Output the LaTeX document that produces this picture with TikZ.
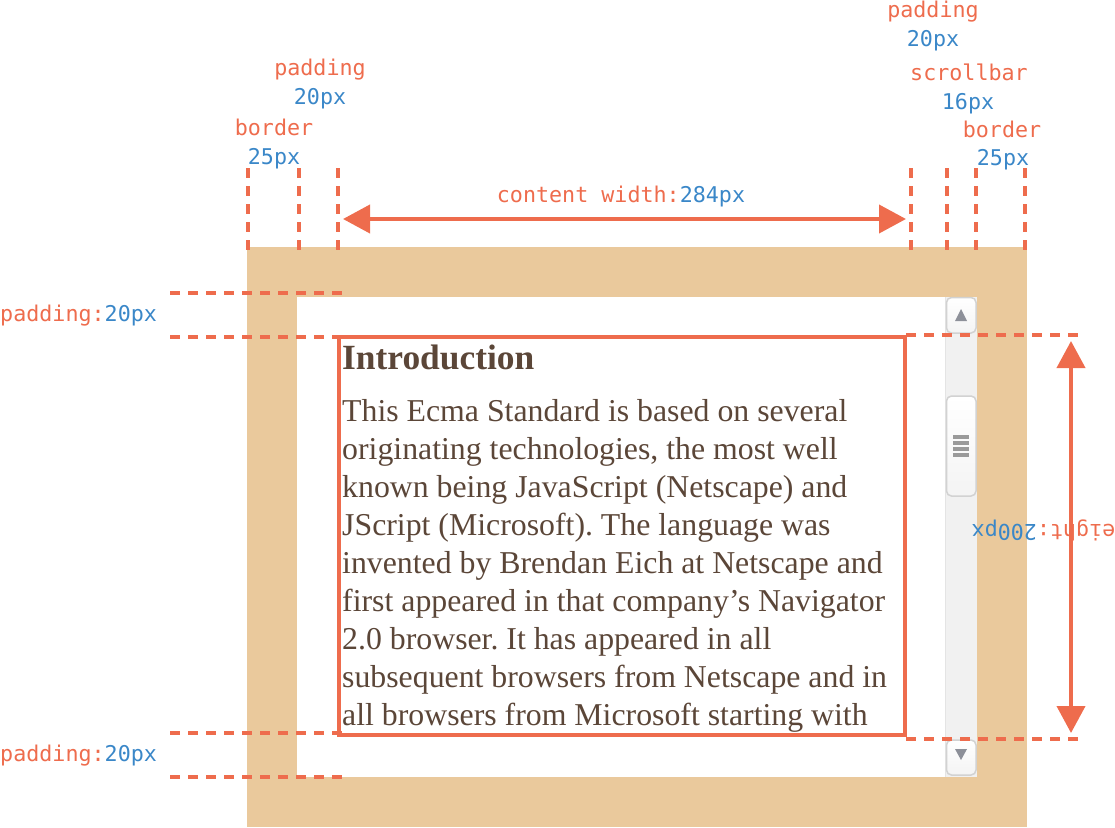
\documentclass[tikz,border=0pt]{standalone}
\usepackage{fontspec}
\setmainfont{Liberation Serif}
\newfontfamily\monof{DejaVu Sans Mono}
\usetikzlibrary{arrows.meta}
\definecolor{orng}{HTML}{EE6C4D}
\definecolor{blu}{HTML}{3A87C8}
\definecolor{tanc}{HTML}{EAC99C}
\definecolor{brn}{HTML}{5B4638}
\definecolor{sbtrack}{HTML}{F1F1F1}
\definecolor{sbedge}{HTML}{D2D2D2}
\definecolor{sbtri}{HTML}{8D9099}
\definecolor{grip}{HTML}{9A9A9A}
\frenchspacing
\begin{document}
\begin{tikzpicture}[x=1pt,y=-1pt,
 dim/.style={orng,line width=4pt,dash pattern=on 10pt off 8pt},
 lbl/.style={font=\monof\fontsize{21.7}{26}\selectfont,inner sep=0pt,anchor=base},
 body/.style={font=\fontsize{31.8}{38}\selectfont,text=brn,inner sep=0pt,anchor=base west},
 arr/.style={orng,line width=4pt,{Triangle[length=27pt,width=28pt]}-{Triangle[length=27pt,width=28pt]}},
 sbbtn/.style={draw=sbedge,line width=1.5pt,rounded corners=5pt,top color=white,bottom color=sbtrack!80!white},
]
\useasboundingbox (0,0) rectangle (1115,827);
% box
\fill[tanc] (247,247) rectangle (1027,827);
\fill[white] (297,297) rectangle (977,777);
% scrollbar
\fill[sbtrack] (945,297) rectangle (977,777);
\draw[sbedge!60!white,line width=1pt] (945.5,297) -- (945.5,777);
\draw[sbbtn] (946.5,297.5) rectangle (976,333) node[midway] (upbtn) {};
\fill[sbtri] (961,309) -- (967,321) -- (955,321) -- cycle;
\draw[sbbtn] (946.5,396) rectangle (976,496) node[midway] (thumb) {};
\foreach \yy in {437,443,449,455} \draw[grip,line width=3.5pt] (953,\yy) -- (969,\yy);
\draw[sbbtn] (946.5,740) rectangle (976,775) node[midway] (downbtn) {};
\fill[sbtri] (955,749) -- (967,749) -- (961,760) -- cycle;
% content box
\draw[orng,line width=3.5pt] (339,337) rectangle (905,735);
% text
\node[body,font=\fontsize{35.4}{40}\selectfont\bfseries] (head) at (342,369) {Introduction};
\node[body] (l1) at (342,421) {This Ecma Standard is based on several};
\node[body] (l2) at (342,459) {originating technologies, the most well};
\node[body] (l3) at (342,497) {known being JavaScript (Netscape) and};
\node[body] (l4) at (342,535) {JScript (Microsoft). The language was};
\node[body] (l5) at (342,573) {invented by Brendan Eich at Netscape and};
\node[body] (l6) at (342,611) {first appeared in that company’s Navigator};
\node[body] (l7) at (342,649) {2.0 browser. It has appeared in all};
\node[body] (l8) at (342,687) {subsequent browsers from Netscape and in};
\node[body] (l9) at (342,725) {all browsers from Microsoft starting with};
% top dashed verticals
\foreach \xx/\nm in {248/a,299/b,338/c,911/d,947/e,976/f,1025/g} {
  \coordinate (t\nm) at (\xx,168);
  \coordinate (b\nm) at (\xx,250);
  \draw[dim] (t\nm) -- (b\nm);
}
% left dashed horizontals
\foreach \yy/\nm in {293/p,337/q,733/r,777/s} {
  \coordinate (ls\nm) at (170,\yy);
  \coordinate (le\nm) at (342,\yy);
  \draw[dim] (ls\nm) -- (le\nm);
}
% right dashed horizontals
\foreach \yy/\nm in {335/u,739/v} {
  \coordinate (rs\nm) at (906,\yy);
  \coordinate (re\nm) at (1078,\yy);
  \draw[dim] (rs\nm) -- (re\nm);
}
% arrows
\coordinate (wl) at (343,219);
\coordinate (wr) at (906,219);
\draw[arr] (wl) -- (wr);
\coordinate (ht) at (1071,341);
\coordinate (hb) at (1071,733);
\draw[arr] (ht) -- (hb);
% labels
\node[lbl,text=orng] (lpad) at (320,75) {padding};
\node[lbl,text=blu] (lpadv) at (320,104) {20px};
\node[lbl,text=orng] (lbor) at (274,135) {border};
\node[lbl,text=blu] (lborv) at (274,164) {25px};
\node[lbl,text=orng] (rpad) at (933,17) {padding};
\node[lbl,text=blu] (rpadv) at (933,46) {20px};
\node[lbl,text=orng] (rsb) at (969,80) {scrollbar};
\node[lbl,text=blu] (rsbv) at (968,109) {16px};
\node[lbl,text=orng] (rbor) at (1002,137) {border};
\node[lbl,text=blu] (rborv) at (1003,165) {25px};
\node[lbl] (cw) at (621,202) {\textcolor{orng}{content width:}\textcolor{blu}{284px}};
\node[lbl,anchor=base west] (pt) at (0,321) {\textcolor{orng}{padding:}\textcolor{blu}{20px}};
\node[lbl,anchor=base west] (pb) at (0,761) {\textcolor{orng}{padding:}\textcolor{blu}{20px}};
\node[lbl,rotate=180] (hl) at (1050,524) {\textcolor{orng}{height:}\textcolor{blu}{200px}};
\end{tikzpicture}
\end{document}
